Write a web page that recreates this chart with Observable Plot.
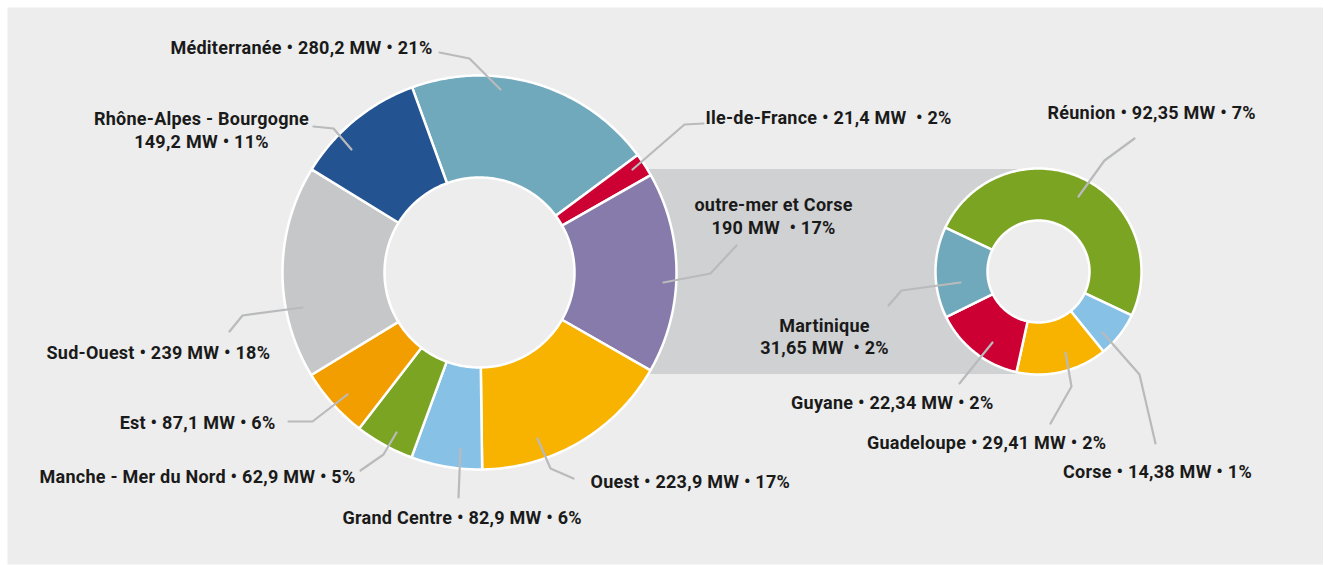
<!DOCTYPE html>
<html><head><meta charset="utf-8">
<script src="https://cdn.jsdelivr.net/npm/d3@7"></script>
<script src="https://cdn.jsdelivr.net/npm/@observablehq/plot@0.6"></script>
<style>html,body{margin:0;padding:0;background:#fff;}</style>
</head><body><div id="chart"></div>
<script>
// ---------- DATA ----------
const regions = ["Méditerranée", "Ile-de-France", "outre-mer et Corse", "Ouest", "Grand Centre",
  "Manche - Mer du Nord", "Est", "Sud-Ouest", "Rhône-Alpes - Bourgogne"];
const regionMW = [280.2, 21.4, 190, 223.9, 82.9, 62.9, 87.1, 239, 149.2];
const regionPct = [21, 2, 17, 17, 6, 5, 6, 18, 11];
const regionColors = ["#6fa9bb", "#cc0033", "#877bab", "#f8b200", "#87c2e6",
  "#7ba423", "#f39e00", "#c6c7c9", "#235391"];

const outreMer = ["Réunion", "Corse", "Guadeloupe", "Guyane", "Martinique"];
const outreMerMW = [92.35, 14.38, 29.41, 22.34, 31.65];
const outreMerPct = [7, 1, 2, 2, 2];
const outreMerColors = ["#7ba423", "#87c2e6", "#f8b200", "#cc0033", "#6fa9bb"];

// ---------- LAYOUT ----------
const W = 1324, H = 565;
const bg = "#ecedec";
const bandColor = "#d0d1d3";
const leaderColor = "#b9babc";
const font = "Roboto, 'Liberation Sans', sans-serif";
const donutLayout = [
  {cx: 479, cy: 272, r0: 95, r1: 197, start: -20},
  {cx: 1038, cy: 271, r0: 51, r1: 103, start: -64.8}
];
const bandLayout = {x1: 600, x2: 1038, y1: 169, y2: 374};
// label placement: anchor, x, baseline y (of last line), line break / wide gap
const labelLayout = {
  "Méditerranée": {anchor: "end", x: 432, y: 53, leader: [[439,52],[469,58],[500,89]]},
  "Ile-de-France": {anchor: "start", x: 705, y: 123.5, gap: true, leader: [[703,123],[684,124],[632,169]]},
  "outre-mer et Corse": {anchor: "middle", x: 773, y: 233, split: true, gap: true, leader: [[736,245],[710,273],[663,282]]},
  "Ouest": {anchor: "start", x: 590, y: 487, leader: [[573,478],[550,468],[537,438]]},
  "Grand Centre": {anchor: "start", x: 342, y: 523.5, leader: [[458,497],[460,448]]},
  "Manche - Mer du Nord": {anchor: "end", x: 355, y: 482, leader: [[360,470],[383,454],[396,432]]},
  "Est": {anchor: "end", x: 275, y: 428, leader: [[288,421],[312,421],[347,394]]},
  "Sud-Ouest": {anchor: "start", x: 46, y: 358.5, leader: [[229,331],[242,315],[302,307]]},
  "Rhône-Alpes - Bourgogne": {anchor: "middle", x: 201, y: 147, split: true, leader: [[313,126],[333,128],[351,149]]},
  "Réunion": {anchor: "start", x: 1047, y: 118.5, leader: [[1134,138],[1104,160],[1078,196]]},
  "Corse": {anchor: "start", x: 1062.5, y: 477, leader: [[1155,443],[1139,374],[1102,332]]},
  "Guadeloupe": {anchor: "start", x: 866.5, y: 448.5, leader: [[1050,423],[1071,386],[1065,352]]},
  "Guyane": {anchor: "end", x: 993, y: 408.5, leader: [[959,383],[992,342]]},
  "Martinique": {anchor: "middle", x: 824, y: 353.5, split: true, gap: true, leader: [[888,305],[901,290],[960,282]]}
};

// ---------- BUILD ----------
const fmt = v => String(v).replace(".", ",");
const donutData = [
  {names: regions, mw: regionMW, pct: regionPct, colors: regionColors},
  {names: outreMer, mw: outreMerMW, pct: outreMerPct, colors: outreMerColors}
];
const rad = a => a * Math.PI / 180;
const pt = (cx, cy, r, a) => ({x: cx + r * Math.sin(rad(a)), y: cy - r * Math.cos(rad(a))});

const sliceVerts = [], holeVerts = [], labels = [], leaders = [];
donutData.forEach((d, di) => {
  const L = donutLayout[di];
  const total = d3.sum(d.pct);
  let a = L.start;
  d.names.forEach((name, i) => {
    const span = d.pct[i] / total * 360;
    const a0 = a, a1 = a + span;
    const key = di + "-" + i;
    const n = Math.max(2, Math.ceil(span / 0.75));
    for (let k = 0; k <= n; k++) sliceVerts.push({key, color: d.colors[i], ...pt(L.cx, L.cy, L.r1, a0 + (a1 - a0) * k / n)});
    for (let k = n; k >= 0; k--) sliceVerts.push({key, color: d.colors[i], ...pt(L.cx, L.cy, L.r0, a0 + (a1 - a0) * k / n)});
    a = a1;
    const lay = labelLayout[name];
    const sep = lay.gap ? " MW \u00a0• " : " MW • ";
    const text = lay.split
      ? `${name}\n${fmt(d.mw[i])}${sep}${d.pct[i]}%`
      : `${name} • ${fmt(d.mw[i])}${sep}${d.pct[i]}%`;
    labels.push({text, anchor: lay.anchor, x: lay.x, y: lay.y});
    lay.leader.forEach(([x, y]) => leaders.push({key: name, x, y}));
  });
  for (let k = 0; k < 360; k += 2) holeVerts.push({key: "h" + di, ...pt(L.cx, L.cy, L.r0, k)});
});

const textOpts = anchor => ({
  x: "x", y: "y", text: "text", textAnchor: anchor, lineAnchor: "bottom", lineHeight: 1.25,
  fontSize: 18, fontWeight: "bold", fontFamily: font, fill: "#1a1a1a"
});

const chart = Plot.plot({
  width: W, height: H, margin: 0,
  x: {domain: [0, W], range: [0, W], axis: null},
  y: {domain: [0, H], range: [0, H], axis: null},
  color: {type: "identity"},
  style: {background: "white", letterSpacing: "0.25px"},
  marks: [
    Plot.frame({fill: bg, stroke: null, insetLeft: 7, insetTop: 7, insetRight: 1.5, insetBottom: 1}),
    Plot.rect([bandLayout], {x1: "x1", x2: "x2", y1: "y1", y2: "y2", fill: bandColor}),
    Plot.line(holeVerts, {x: "x", y: "y", z: "key", fill: bg, stroke: null, curve: "linear-closed"}),
    Plot.line(sliceVerts, {x: "x", y: "y", z: "key", fill: "color", stroke: "white", strokeWidth: 2.5, curve: "linear-closed"}),
    Plot.line(leaders, {x: "x", y: "y", z: "key", stroke: leaderColor, strokeWidth: 2.2}),
    Plot.text(labels.filter(d => d.anchor === "start"), textOpts("start")),
    Plot.text(labels.filter(d => d.anchor === "middle"), textOpts("middle")),
    Plot.text(labels.filter(d => d.anchor === "end"), textOpts("end"))
  ]
});
document.getElementById("chart").append(chart);
</script>
</body></html>
